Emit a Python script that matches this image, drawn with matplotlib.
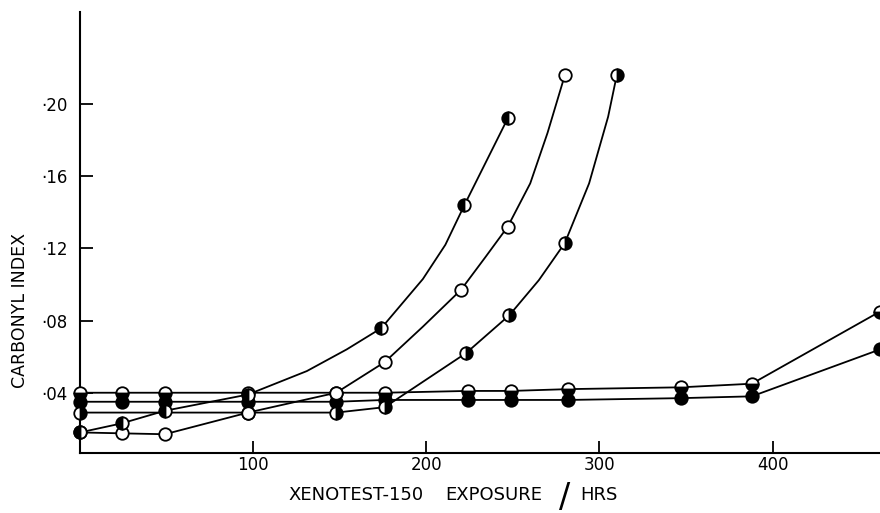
import matplotlib
matplotlib.use("Agg")
import matplotlib.pyplot as plt

# ---- data (marker points) ----
a_x = [0, 24, 49, 97, 174, 222, 247]
a_y = [0.018, 0.023, 0.030, 0.039, 0.0758, 0.144, 0.192]

b_x = [0, 24, 49, 97, 148, 176, 220, 247, 280]
b_y = [0.018, 0.0175, 0.017, 0.029, 0.040, 0.057, 0.097, 0.132, 0.216]

c_x = [0, 97, 148, 176, 223, 248, 280, 310]
c_y = [0.029, 0.029, 0.029, 0.032, 0.062, 0.083, 0.123, 0.216]

d_x = [0, 24, 49, 97, 148, 176, 224, 249, 282, 347, 388, 462]
d_y = [0.040, 0.040, 0.040, 0.040, 0.040, 0.040, 0.041, 0.041, 0.042, 0.043, 0.045, 0.085]

e_x = [0, 24, 49, 97, 148, 176, 224, 249, 282, 347, 388, 462]
e_y = [0.035, 0.035, 0.035, 0.035, 0.035, 0.036, 0.036, 0.036, 0.036, 0.037, 0.038, 0.064]

# ---- curve traces (drawn lines between markers) ----
a_trace_x = [0, 24, 49, 97, 131, 154, 174, 198, 211, 222, 247]
a_trace_y = [0.018, 0.023, 0.030, 0.039, 0.052, 0.064, 0.0758, 0.103, 0.122, 0.144, 0.192]

b_trace_x = [0, 24, 49, 97, 148, 176, 198, 220, 234, 247, 260, 270, 280]
b_trace_y = [0.018, 0.0175, 0.017, 0.029, 0.040, 0.057, 0.0766, 0.097, 0.115, 0.132, 0.156, 0.184, 0.216]

c_trace_x = [0, 97, 148, 176, 223, 248, 265, 280, 294, 305, 310]
c_trace_y = [0.029, 0.029, 0.029, 0.032, 0.062, 0.083, 0.1024, 0.123, 0.156, 0.193, 0.216]

x_ticks = [100, 200, 300, 400]
x_ticklabels = ["100", "200", "300", "400"]
y_ticks = [0.04, 0.08, 0.12, 0.16, 0.20]
y_ticklabels = ["\u00b704", "\u00b708", "\u00b712", "\u00b716", "\u00b720"]

plt.rcParams['font.family'] = ['DejaVu Sans']

fig = plt.figure(figsize=(8.8, 5.13), dpi=100)
ax = fig.add_axes([80 / 880, 60 / 513, 800 / 880, 441 / 513])
ax.set_xlim(0, 462)
ax.set_ylim(0.0066, 0.251)

ms = 9
mew = 1.3
lw = 1.3

# lines
for xs, ys in [(a_trace_x, a_trace_y), (b_trace_x, b_trace_y), (c_trace_x, c_trace_y),
               (d_x, d_y), (e_x, e_y)]:
    ax.plot(xs, ys, color='black', lw=lw, zorder=2, clip_on=False,
            solid_joinstyle='round')

# markers
common = dict(ls='none', ms=ms, mew=mew, mec='black', zorder=3, clip_on=False)
ax.plot(d_x, d_y, marker='o', fillstyle='bottom', mfc='black', mfcalt='white', **common)
ax.plot(e_x, e_y, marker='o', mfc='black', **common)
ax.plot(c_x, c_y, marker='o', fillstyle='right', mfc='black', mfcalt='white', **common)
ax.plot(b_x, b_y, marker='o', mfc='white', **common)
ax.plot(a_x, a_y, marker='o', fillstyle='left', mfc='black', mfcalt='white', **common)

for s in ['top', 'right']:
    ax.spines[s].set_visible(False)
for s in ['left', 'bottom']:
    ax.spines[s].set_linewidth(1.5)

ax.set_xticks(x_ticks)
ax.set_xticklabels(x_ticklabels, fontsize=12)
ax.set_yticks(y_ticks)
ax.set_yticklabels(y_ticklabels, fontsize=12)
ax.tick_params(axis='both', direction='in', length=9, width=1.3)
ax.tick_params(axis='x', pad=2)
ax.tick_params(axis='y', pad=9)

ax.set_ylabel("CARBONYL INDEX", fontsize=12.5)
ax.yaxis.set_label_coords(-0.064, 0.324)

fig.text(288 / 880, 1 - 495 / 513, "XENOTEST-150", fontsize=13,
         ha='left', va='center')
fig.text(445 / 880, 1 - 495 / 513, "EXPOSURE", fontsize=13,
         ha='left', va='center')
fig.text(565 / 880, 1 - 497 / 513, "/", fontsize=24, ha='center', va='center')
fig.text(580 / 880, 1 - 495 / 513, "HRS", fontsize=13, ha='left', va='center')

fig.savefig("out.png", dpi=100)
